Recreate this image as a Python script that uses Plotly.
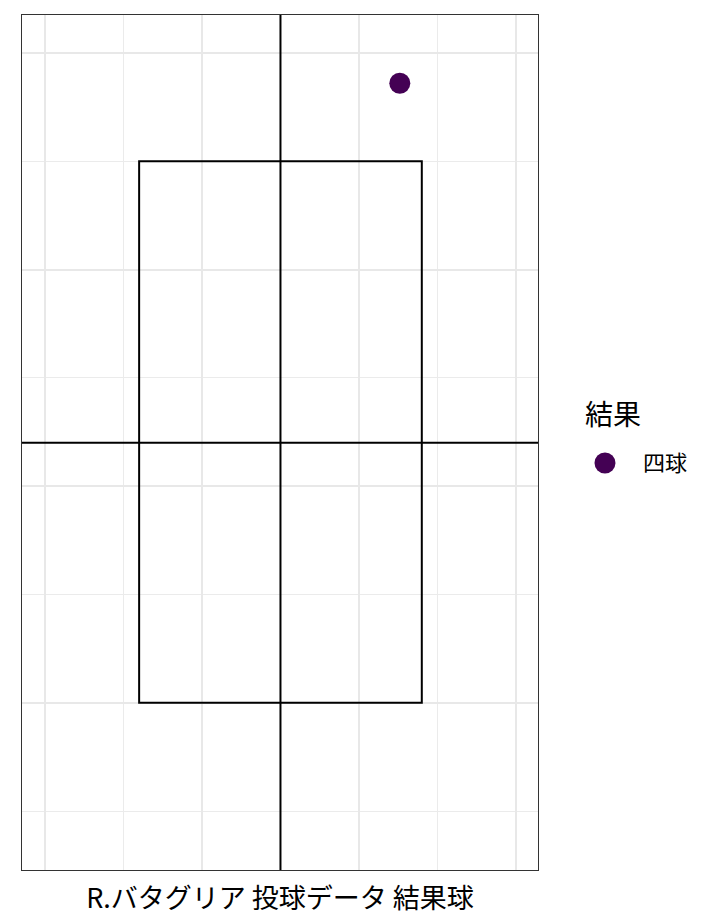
import plotly.graph_objects as go

# ---- data ----
result_labels = ["四球"]
pitch_x = [0.76]
pitch_y = [3.86]

zone_x = [-0.9, 0.9]
zone_y = [1.0, 3.5]
center_x = 0.0
center_y = 2.2

x_range = [-1.646, 1.640]
y_range = [0.228, 4.175]
x_major_tick0, x_major_dtick = -1.5, 1.0
y_major_tick0, y_major_dtick = 1.0, 1.0

title_text = "R.バタグリア 投球データ 結果球"
legend_title = "結果"
point_color = "#440154"

FONT = "Noto Sans CJK JP"

fig = go.Figure()
fig.add_trace(go.Scatter(
    x=pitch_x, y=pitch_y, mode="markers", name=result_labels[0],
    marker=dict(size=21, color=point_color, line=dict(width=0)),
    showlegend=False,
))

# strike zone rectangle
fig.add_shape(type="rect", xref="x", yref="y",
              x0=zone_x[0], x1=zone_x[1], y0=zone_y[0], y1=zone_y[1],
              line=dict(color="black", width=2), fillcolor="rgba(0,0,0,0)", layer="above")
# cross lines
fig.add_shape(type="line", xref="x", yref="y domain", x0=center_x, x1=center_x, y0=0, y1=1,
              line=dict(color="black", width=2), layer="above")
fig.add_shape(type="line", xref="x domain", yref="y", x0=0, x1=1, y0=center_y, y1=center_y,
              line=dict(color="black", width=2), layer="above")

# legend (drawn manually so the key matches the point size)
leg_x_title, leg_y_title = 1.0872, 0.5345
leg_x_key, leg_y_key = 1.1298, 0.4760
leg_x_label = 1.2000
fig.add_annotation(text=legend_title, xref="paper", yref="paper",
                   x=leg_x_title, y=leg_y_title, xanchor="left", yanchor="middle",
                   showarrow=False, font=dict(family=FONT, size=28, color="#000000"))
fig.add_shape(type="circle", xref="paper", yref="paper",
              xsizemode="pixel", ysizemode="pixel",
              xanchor=leg_x_key, yanchor=leg_y_key,
              x0=-10.5, x1=10.5, y0=-10.5, y1=10.5,
              fillcolor=point_color, line=dict(width=0))
fig.add_annotation(text=result_labels[0], xref="paper", yref="paper",
                   x=leg_x_label, y=leg_y_key + 0.002, xanchor="left", yanchor="middle",
                   showarrow=False, font=dict(family=FONT, size=22, color="#000000"))

axis_common = dict(
    showticklabels=False, ticks="", zeroline=False,
    showgrid=True, gridcolor="#E8E8E8", gridwidth=2,
    showline=True, mirror=True, linecolor="#333333", linewidth=1,
)
fig.update_xaxes(
    range=x_range, tick0=x_major_tick0, dtick=x_major_dtick,
    minor=dict(tick0=x_major_tick0, dtick=x_major_dtick / 2, showgrid=True,
               gridcolor="#EBEBEB", gridwidth=1),
    title=dict(text=title_text, font=dict(family=FONT, size=27, color="#000000"), standoff=19),
    **axis_common,
)
fig.update_yaxes(
    range=y_range, tick0=y_major_tick0, dtick=y_major_dtick,
    minor=dict(tick0=y_major_tick0, dtick=y_major_dtick / 2, showgrid=True,
               gridcolor="#EBEBEB", gridwidth=1),
    **axis_common,
)

fig.update_layout(
    width=712, height=913,
    margin=dict(l=14, r=182, t=7, b=51, autoexpand=False),
    plot_bgcolor="white", paper_bgcolor="white",
    font=dict(family=FONT, color="#000000"),
    showlegend=False,
)

fig.write_html("out.html")
